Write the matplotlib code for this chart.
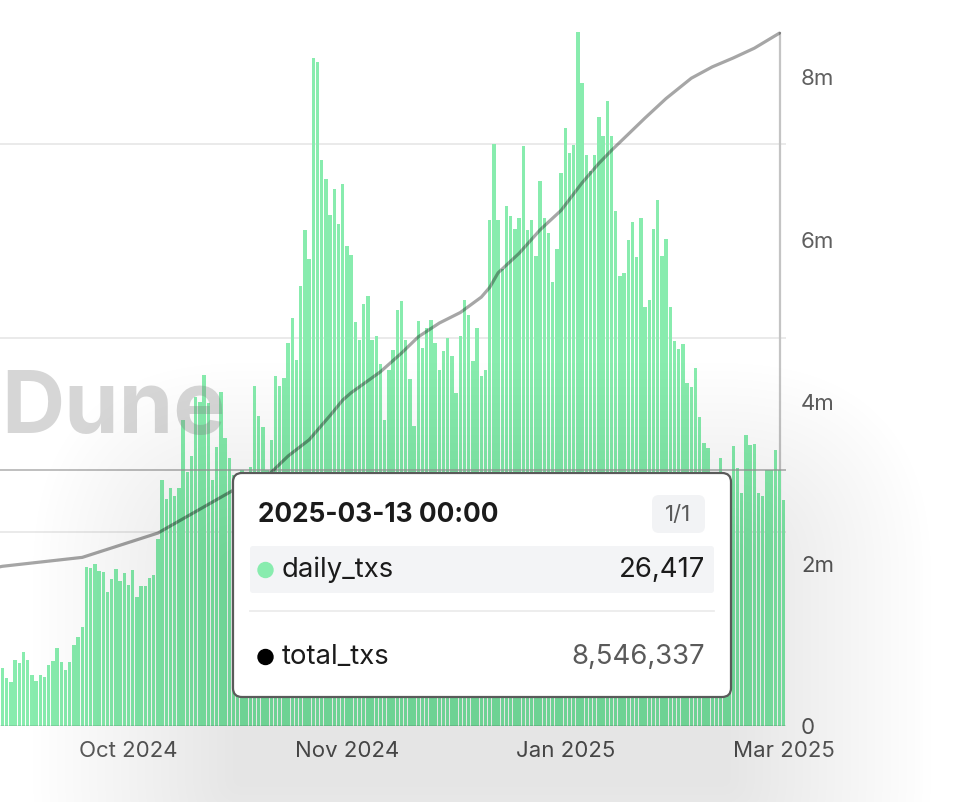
import numpy as np
import pandas as pd
import matplotlib
matplotlib.use("Agg")
import matplotlib.pyplot as plt
import matplotlib.dates as mdates
from matplotlib.patches import FancyBboxPatch, Circle

plt.rcParams['font.family'] = ['Inter', 'DejaVu Sans']

# datos
########################################################
start_day = '2024-09-09'

daily_txs = [
    5980, 4950, 4540, 6800, 6500, 7630, 6800, 5260, 4640, 5260,
    5050, 6290, 6700, 8040, 6600, 5770, 6600, 8350, 9180, 10210,
    16390, 16290, 16700, 15980, 15880, 13820, 15160, 16190, 14950, 15770,
    14540, 16080, 13300, 14430, 14430, 15260, 15570, 19280, 25360, 23400,
    24540, 23710, 24540, 31550, 26190, 27840, 33920, 33400, 36190, 33300,
    25360, 28760, 34430, 29690, 27630, 25880, 25360, 26390, 25880, 26700,
    35050, 31960, 30830, 26390, 29490, 36080, 35050, 35880, 39490, 42060,
    37730, 45360, 51140, 48150, 68870, 68460, 58350, 56360, 52680, 55360,
    51750, 55880, 49420, 48560, 41580, 39800, 43510, 44260, 39720, 40210,
    37290, 31550, 36630, 38690, 42890, 43750, 39800, 35710, 30860, 41680,
    38940, 41000, 41860, 39460, 36700, 38590, 39970, 38070, 34300, 40140,
    43920, 42370, 37560, 41000, 36010, 36700, 52170, 60000, 52170, 47090,
    53610, 52580, 51210, 52340, 59800, 51140, 52170, 48460, 56120, 52340,
    50800, 45700, 49150, 56980, 61620, 59050, 59900, 71500, 66260, 58870,
    57150, 58870, 62760, 60760, 64440, 60760, 53100, 46400, 46670, 50030,
    51890, 48280, 52370, 43200, 43920, 51210, 54230, 48460, 50210, 43200,
    39690, 38870, 39380, 35360, 34950, 36910, 31860, 29180, 28660, 25360,
    24850, 27630, 25360, 24850, 28870, 26600, 24020, 30000, 28970, 29070,
    24020, 23710, 26390, 26390, 28460, 26417, 23300,
]

total_dates = [
    '2024-09-08', '2024-09-09', '2024-09-28', '2024-10-16', '2024-11-03',
    '2024-11-12', '2024-11-16', '2024-11-21', '2024-11-26', '2024-11-29',
    '2024-12-01', '2024-12-08', '2024-12-13', '2024-12-17', '2024-12-22',
    '2024-12-27', '2025-01-01', '2025-01-03', '2025-01-05', '2025-01-10',
    '2025-01-15', '2025-01-20', '2025-01-25', '2025-01-29', '2025-02-01',
    '2025-02-06', '2025-02-09', '2025-02-14', '2025-02-20', '2025-02-25',
    '2025-03-02', '2025-03-07', '2025-03-13',
]
total_txs = [
    1.96e6, 1.97e6, 2.08e6, 2.38e6, 2.91e6,
    3.13e6, 3.33e6, 3.53e6, 3.83e6, 4.02e6,
    4.11e6, 4.37e6, 4.60e6, 4.80e6, 4.97e6,
    5.10e6, 5.29e6, 5.41e6, 5.59e6, 5.83e6,
    6.12e6, 6.36e6, 6.70e6, 6.94e6, 7.10e6,
    7.35e6, 7.50e6, 7.74e6, 7.99e6, 8.13e6,
    8.24e6, 8.36e6, 8546337,
]

right_ticks = [0, 2e6, 4e6, 6e6, 8e6]
right_labels = ['0', '2m', '4m', '6m', '8m']
left_grid = [20000, 40000, 60000]

hover_day = '2025-03-13'
hover_daily = '26,417'
hover_total = '8,546,337'

GREEN = '#88ecae'

# figura
########################################################
W, H = 964, 802
fig = plt.figure(figsize=(W / 100, H / 100), dpi=100)
fig.patch.set_facecolor('white')

ax = fig.add_axes([0, (H - 726) / H, 785.8 / W, 694 / H])
ax2 = ax.twinx()

dates = pd.date_range(start_day, periods=len(daily_txs), freq='D')
xd = mdates.date2num(dates.to_pydatetime())

ax.bar(xd, daily_txs, width=0.78, color=GREEN, linewidth=0, zorder=2)
ax.set_ylim(0, 71500)
ax.set_xlim(xd[0] - 0.6, xd[-1] + 0.5)
ax.set_yticks(left_grid)
ax.set_yticklabels([])
ax.tick_params(axis='y', length=0)
ax.grid(True, axis='y', color='#e6e6e6', linewidth=1.2, zorder=0)
ax.set_axisbelow(True)
ax.axhline(0, color='#3a3a3a', linewidth=0.9, zorder=3)

# marcas de fecha cada 52 barras, desde la ultima
tick_idx = [len(daily_txs) - 1 - 52 * k for k in range(4)][::-1]
ax.set_xticks(xd[tick_idx])
ax.set_xticklabels([dates[i].strftime('%b %Y') for i in tick_idx])
ax.tick_params(axis='x', length=0, pad=11, labelsize=16, labelcolor='#5f5f5f')

# cursor sobre el 13 de marzo
hx = mdates.date2num(pd.Timestamp(hover_day).to_pydatetime())
ax.axvline(hx, color='#c4c4c4', linewidth=1.6, zorder=1)
ax.axhline(26417, color='#9a9a9a', linewidth=1.1, alpha=0.8, zorder=4)

xt = mdates.date2num(pd.to_datetime(total_dates).to_pydatetime())
ax2.plot(xt, total_txs, color='black', alpha=0.35, linewidth=2.3,
         solid_capstyle='round', solid_joinstyle='round', clip_on=False, zorder=5)
ax2.set_ylim(0, 8.56e6)
ax2.set_yticks(right_ticks)
ax2.set_yticklabels(right_labels)
ax2.tick_params(axis='y', length=0, pad=11, labelsize=16, labelcolor='#5f5f5f')

for a in (ax, ax2):
    for s in a.spines.values():
        s.set_visible(False)

# capa superior en pixeles: marca de agua y tooltip
########################################################
ov = fig.add_axes([0, 0, 1, 1], zorder=10)
ov.set_xlim(0, W)
ov.set_ylim(H, 0)
ov.axis('off')
ov.patch.set_alpha(0)

ov.text(1, 433, 'Dune', fontsize=63, fontweight='bold', color='#7a7a7a',
        alpha=0.3, va='baseline', ha='left')

# sombra difusa del tooltip, cargada hacia abajo
bx0, by0, bx1, by1 = 233, 473, 731, 697
for k in range(26):
    e = 8 * k
    ov.add_patch(FancyBboxPatch((bx0 - e, by0 + 90 - e), (bx1 - bx0) + 2 * e,
                                (by1 - by0) + 2 * e,
                                boxstyle='round,pad=0,rounding_size=%d' % (10 + e),
                                facecolor='black', edgecolor='none',
                                alpha=0.0028, zorder=2))

ov.add_patch(FancyBboxPatch((bx0, by0), bx1 - bx0, by1 - by0,
                            boxstyle='round,pad=0,rounding_size=9',
                            facecolor='white', edgecolor='#5a5a5a',
                            linewidth=1.6, zorder=3))

ov.text(258, 515, '2025-03-13 00:00', fontsize=18.9, fontweight='bold',
        color='#1b1b1b', va='center', ha='left', zorder=4)
ov.add_patch(FancyBboxPatch((652, 495), 53, 38,
                            boxstyle='round,pad=0,rounding_size=7',
                            facecolor='#f2f3f5', edgecolor='none', zorder=4))
ov.text(678.5, 515, '1/1', fontsize=16, color='#5a5a5a',
        va='center', ha='center', zorder=5)

ov.add_patch(FancyBboxPatch((250, 546), 464, 47,
                            boxstyle='round,pad=0,rounding_size=3',
                            facecolor='#f3f4f6', edgecolor='none', zorder=4))
ov.add_patch(Circle((265.5, 570), 7.5, color=GREEN, zorder=5))
ov.text(282, 570, 'daily_txs', fontsize=19.8, color='#1b1b1b',
        va='center', ha='left', zorder=5)
ov.text(705, 570, hover_daily, fontsize=19.8, color='#1b1b1b',
        va='center', ha='right', zorder=5)

ov.plot([250, 714], [611, 611], color='#ececec', linewidth=1.3, zorder=4)

ov.add_patch(Circle((265.5, 657), 7.5, color='black', zorder=5))
ov.text(282, 657, 'total_txs', fontsize=19.8, color='#1b1b1b',
        va='center', ha='left', zorder=5)
ov.text(705, 657, hover_total, fontsize=19.8, color='#5a5a5a',
        va='center', ha='right', zorder=5)

fig.savefig('out.png', dpi=100, facecolor='white')
